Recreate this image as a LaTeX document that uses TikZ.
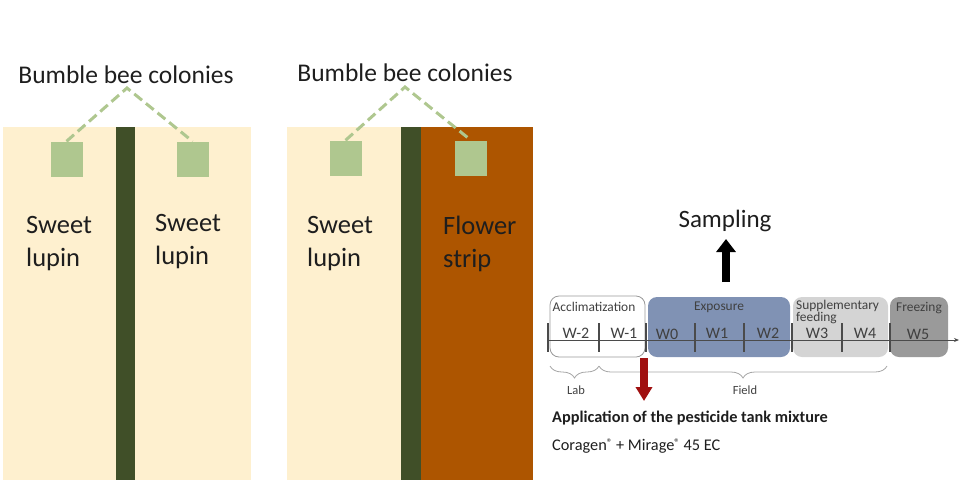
\documentclass[tikz,border=0pt]{standalone}
\usepackage{fontspec}
\setmainfont{Carlito}
\usetikzlibrary{decorations.pathreplacing,arrows.meta}
\definecolor{cream}{RGB}{254,240,207}
\definecolor{hedge}{RGB}{64,79,40}
\definecolor{colgreen}{RGB}{175,199,143}
\definecolor{brownstrip}{RGB}{173,85,0}
\definecolor{expo}{RGB}{128,146,180}
\definecolor{supp}{RGB}{212,212,212}
\definecolor{freez}{RGB}{154,154,154}
\definecolor{darkred}{RGB}{160,16,16}
\definecolor{txt}{RGB}{30,30,30}
\newcommand{\regmark}{\raisebox{3.5pt}{\fontsize{11}{11}\selectfont ®}}
\tikzset{
  colony/.style={fill=colgreen, draw=none, minimum width=32pt, minimum height=35pt, inner sep=0pt},
  colline/.style={draw=colgreen, line width=3pt, dash pattern=on 10pt off 5pt},
  title/.style={font=\fontsize{25.5}{30}\selectfont, text=txt, inner sep=0pt},
  field/.style={font=\fontsize{26.5}{33}\selectfont, text=txt, inner sep=0pt, align=left, anchor=north west},
  phase/.style={rounded corners=9pt},
  wk/.style={font=\fontsize{16}{18}\selectfont, text=txt!85, inner sep=0pt},
  ph/.style={font=\fontsize{13.4}{14}\selectfont, text=txt!85, inner sep=0pt},
  tick/.style={draw=txt!80, line width=1.2pt},
  small/.style={font=\fontsize{12.5}{14}\selectfont, text=txt!85, inner sep=0pt},
  bracestyle/.style={gray!70, line width=0.8pt, decorate, decoration={brace, amplitude=12pt, mirror}},
}
\begin{document}
\begin{tikzpicture}[x=1pt,y=-1pt]
\useasboundingbox (0,0) rectangle (960,480);
% left panel
\fill[cream] (3,127) rectangle (251,480);
\fill[hedge] (116,127) rectangle (135,480);
\node[colony] (c1) at (66.5,159) {};
\node[colony] (c2) at (192.5,159) {};
\node[title] (t1) at (126,75) {Bumble bee colonies};
\coordinate (a1) at (127,88);
\draw[colline] (c1.north) -- (a1) -- (c2.north);
\node[field] (f1) at (26,216) {Sweet\\lupin};
\node[field] (f2) at (155,214) {Sweet\\lupin};
% right panel
\fill[cream] (287,127) rectangle (401,480);
\fill[hedge] (401,127) rectangle (421,480);
\fill[brownstrip] (421,127) rectangle (533,480);
\node[colony] (c3) at (345.5,158) {};
\node[colony] (c4) at (471,158) {};
\node[title] (t2) at (405,73) {Bumble bee colonies};
\coordinate (a2) at (405,87);
\draw[colline] (c3.north) -- (a2) -- (c4.north);
\node[field] (f3) at (307,216) {Sweet\\lupin};
\node[field] (f4) at (443,216) {Flower\\strip};
% timeline boxes
\draw[phase, draw=gray!80, fill=white, line width=0.8pt] (550,296) rectangle (645,357);
\fill[phase, expo] (648,297) rectangle (790,357);
\fill[phase, supp] (793,297) rectangle (888,357);
\fill[phase, freez] (890,297) rectangle (948,357);
\node[ph] (p1) at (594,307) {Acclimatization};
\node[ph] (p2) at (719,307) {Exposure};
\node[ph, anchor=base west] (p3a) at (796,309) {Supplementary};
\node[ph, anchor=base west] (p3b) at (796,321) {feeding};
\node[ph] (p4) at (919,308) {Freezing};
% axis
\coordinate (ax0) at (548,340);
\coordinate (ax1) at (959,340);
\draw[txt!80, line width=0.8pt, -{Stealth[length=5pt,width=4pt]}] (ax0) -- (ax1);
\foreach \x in {548,599,646,695,744,792,842,890}{
  \draw[tick] (\x,323) -- (\x,352);
}
\node[wk] (w1) at (576,333) {W-2};
\node[wk] (w2) at (624,333) {W-1};
\node[wk] (w3) at (667,334) {W0};
\node[wk] (w4) at (717,333) {W1};
\node[wk] (w5) at (768,333) {W2};
\node[wk] (w6) at (817,333) {W3};
\node[wk] (w7) at (865,333) {W4};
\node[wk] (w8) at (918,334) {W5};
% braces
\coordinate (b0) at (550,366);
\coordinate (b1) at (599,366);
\coordinate (b2) at (887,366);
\draw[bracestyle] (b0) -- (b1);
\draw[bracestyle] (b1) -- (b2);
\node[small] (lab) at (576,390) {Lab};
\node[small] (fld) at (745,390) {Field};
% sampling
\node[font=\fontsize{25}{30}\selectfont, text=txt, inner sep=0pt] (samp) at (725,221) {Sampling};
\coordinate (s0) at (726,282);
\draw[black, line width=8pt, -{Triangle[length=13pt,width=19pt]}] (s0) -- (726,239);
% application
\coordinate (r0) at (644,358);
\coordinate (r1) at (644,401);
\draw[darkred, line width=8pt, -{Triangle[length=14pt,width=16pt]}] (r0) -- (r1);
\node[font=\bfseries\fontsize{16.3}{19}\selectfont, text=txt, inner sep=0pt, anchor=base west] (app) at (552,422) {Application of the pesticide tank mixture};
\node[font=\fontsize{16.3}{19}\selectfont, text=txt, inner sep=0pt, anchor=base west] (cor) at (552,450) {Coragen\regmark{} + Mirage\regmark{} 45 EC};
\end{tikzpicture}
\end{document}
